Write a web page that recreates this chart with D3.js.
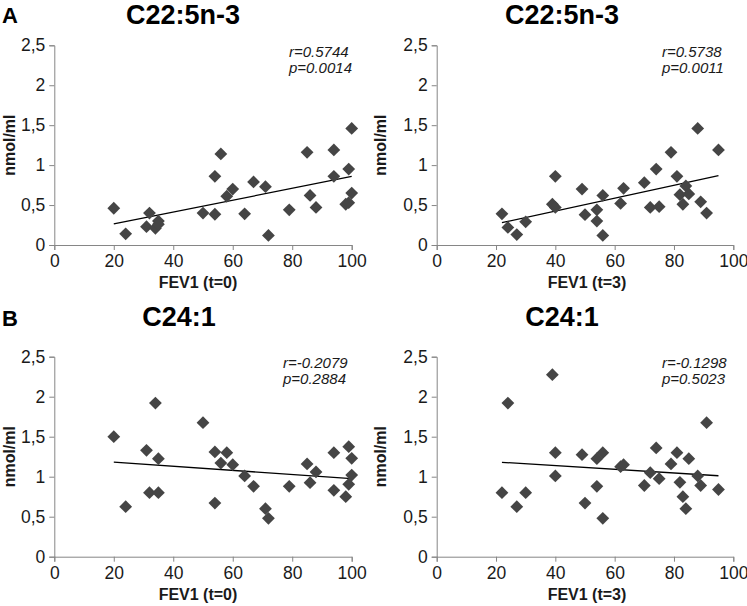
<!DOCTYPE html>
<html><head><meta charset="utf-8">
<script src="https://cdn.jsdelivr.net/npm/d3@7/dist/d3.min.js"></script>
<style>body{margin:0;background:#fff}svg{display:block;font-family:"Liberation Sans",Arial,sans-serif}</style>
</head><body><svg id="c" width="747" height="606"></svg>
<script>
// ---- data ----
const fevT0 = [20,24,31,32,34,35,35,50,54,54,56,58,60,64,67,71,72,79,85,86,88,94,94,98,99,99,100,100];
const c225T0 = [0.46,0.14,0.23,0.40,0.21,0.30,0.26,0.40,0.86,0.385,1.14,0.61,0.70,0.39,0.79,0.73,0.12,0.44,1.16,0.62,0.47,1.19,0.86,0.51,0.53,0.95,1.46,0.65];
const c241T0 = [1.50,0.625,1.33,0.80,1.92,1.225,0.80,1.675,1.31,0.67,1.17,1.30,1.15,1.01,0.88,0.60,0.48,0.88,1.16,0.925,1.06,1.30,0.83,0.75,1.375,0.905,1.23,1.02];
const fevT3 = [22,24,27,30,39,40,40,49,50,54,54,56,56,62,63,70,72,74,75,79,81,82,83,84,85,88,89,91,95];
const c225T3 = [0.39,0.22,0.13,0.29,0.51,0.86,0.47,0.70,0.38,0.44,0.30,0.62,0.12,0.52,0.71,0.78,0.47,0.95,0.48,1.16,0.86,0.63,0.51,0.74,0.64,1.46,0.54,0.40,1.19];
const c241T3 = [0.80,1.92,0.625,0.80,2.275,1.30,1.01,1.275,0.67,1.225,0.88,1.30,0.48,1.125,1.15,0.89,1.05,1.36,0.975,1.16,1.30,0.93,0.75,0.60,1.225,1.01,0.89,1.675,0.84];
const trendA0 = [[20,0.264],[100,0.858]];
const trendA3 = [[22,0.28],[95,0.868]];
const trendB0 = [[20,1.183],[100,0.975]];
const trendB3 = [[22,1.18],[95,1.012]];
const titles = ["C22:5n-3","C22:5n-3","C24:1","C24:1"];
const xLabels = ["FEV1 (t=0)","FEV1 (t=3)","FEV1 (t=0)","FEV1 (t=3)"];
const rLabels = ["r=0.5744","r=0.5738","r=-0.2079","r=-0.1298"];
const pLabels = ["p=0.0014","p=0.0011","p=0.2884","p=0.5023"];
const xTicks = [0,20,40,60,80,100];
const yTicks = [0,0.5,1,1.5,2,2.5];
const panelLetters = ["A","B"];

// ---- layout ----
const panels = [
  {xs:fevT0, ys:c225T0, trend:trendA0, L:54.3, R:351.7, T:45.3, B:245, tX:183, tY:24, xlX:198, xlY:288, ylX:15, annX:289, annY:57},
  {xs:fevT3, ys:c225T3, trend:trendA3, L:436.7, R:733.3, T:45.3, B:245, tX:562, tY:24, xlX:587, xlY:288, ylX:386, annX:662, annY:57},
  {xs:fevT0, ys:c241T0, trend:trendB0, L:54.3, R:351.7, T:356.7, B:556.7, tX:179, tY:326, xlX:198, xlY:600, ylX:15, annX:283, annY:368},
  {xs:fevT3, ys:c241T3, trend:trendB3, L:436.7, R:733.3, T:356.7, B:556.7, tX:562, tY:326, xlX:587, xlY:600, ylX:386, annX:662, annY:368}
];
const svg = d3.select("#c");
const fmt = d => String(d).replace(".", ",");
const diamond = "M0,-6.4L6.4,0L0,6.4L-6.4,0Z";

panels.forEach((p, i) => {
  const x = d3.scaleLinear().domain([0,100]).range([p.L, p.R]);
  const y = d3.scaleLinear().domain([0,2.5]).range([p.B, p.T]);
  const g = svg.append("g");
  const xa = g.append("g").attr("transform", `translate(0,${p.B})`)
    .call(d3.axisBottom(x).tickValues(xTicks).tickSize(5).tickPadding(5).tickFormat(d3.format("d")));
  const ya = g.append("g").attr("transform", `translate(${p.L},0)`)
    .call(d3.axisLeft(y).tickValues(yTicks).tickSize(5).tickPadding(4).tickFormat(fmt));
  [xa, ya].forEach(a => {
    a.select(".domain").attr("stroke", "#868686").attr("stroke-width", 1);
    a.selectAll(".tick line").attr("stroke", "#868686");
    a.selectAll(".tick text").attr("fill", "#1a1a1a").style("font-size", "17.5px").style("font-family", '"Liberation Sans",Arial,sans-serif');
  });
  // trend line
  g.append("line")
    .attr("x1", x(p.trend[0][0])).attr("y1", y(p.trend[0][1]))
    .attr("x2", x(p.trend[1][0])).attr("y2", y(p.trend[1][1]))
    .attr("stroke", "#000").attr("stroke-width", 1.3);
  // points
  g.selectAll("path.pt").data(p.xs.map((v, k) => [v, p.ys[k]])).enter().append("path")
    .attr("class", "pt").attr("d", diamond)
    .attr("transform", d => `translate(${x(d[0])},${y(d[1])})`)
    .attr("fill", "#454545");
  // title
  g.append("text").attr("x", p.tX).attr("y", p.tY).attr("text-anchor", "middle")
    .style("font-size", "27px").style("font-weight", "bold").attr("fill", "#000").text(titles[i]);
  // x label
  g.append("text").attr("x", p.xlX).attr("y", p.xlY).attr("text-anchor", "middle")
    .style("font-size", "16px").style("font-weight", "bold").attr("fill", "#1a1a1a").text(xLabels[i]);
  // y label
  g.append("text").attr("transform", `translate(${p.ylX},${(p.T + p.B) / 2}) rotate(-90)`)
    .attr("text-anchor", "middle")
    .style("font-size", "16px").style("font-weight", "bold").attr("fill", "#1a1a1a").text("nmol/ml");
  // annotation
  g.append("text").attr("x", p.annX).attr("y", p.annY)
    .style("font-size", "15px").style("font-style", "italic").attr("fill", "#1a1a1a").text(rLabels[i]);
  g.append("text").attr("x", p.annX).attr("y", p.annY + 16)
    .style("font-size", "15px").style("font-style", "italic").attr("fill", "#1a1a1a").text(pLabels[i]);
});
// panel letters
panelLetters.forEach((t, k) => {
  svg.append("text").attr("x", 2).attr("y", k === 0 ? 23 : 326)
    .style("font-size", "22px").style("font-weight", "bold").attr("fill", "#000").text(t);
});
</script></body></html>
